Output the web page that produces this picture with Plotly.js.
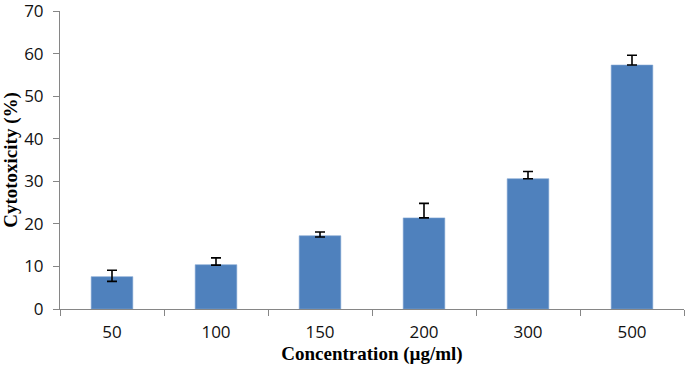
<!DOCTYPE html>
<html>
<head>
<meta charset="utf-8">
<script src="https://cdn.plot.ly/plotly-3.0.1.min.js"></script>
<style>
  html, body { margin: 0; padding: 0; background: #fff; }
  #chart { width: 685px; height: 367px; }
</style>
</head>
<body>
<div id="chart"></div>
<script>
// cytotoxicity per concentration
const concentrations = ["50", "100", "150", "200", "300", "500"];
const cytotoxicity = [7.6, 10.4, 17.2, 21.4, 30.6, 57.3];
const errPlus = [1.5, 1.6, 0.9, 3.4, 1.7, 2.3];
const errMinus = [1.1, 0.1, 0.3, 0.0, 0.0, 0.0];
const yTicks = [0, 10, 20, 30, 40, 50, 60, 70];

const axisGrey = "#868686";
const titleFont = { family: "Liberation Serif, Times New Roman, serif", size: 19, weight: "bold", color: "#000" };
const tickFont = { size: 17, family: "Open Sans, sans-serif", color: "#111" };

const barTrace = {
  x: concentrations,
  y: cytotoxicity,
  type: "bar",
  marker: { color: "#4F81BD", line: { color: "#7FA4D2", width: 0.6 } },
  error_y: {
    type: "data",
    symmetric: false,
    array: errPlus,
    arrayminus: errMinus,
    color: "#000",
    thickness: 1.6,
    width: 5,
  },
  hoverinfo: "x+y",
};

Plotly.newPlot("chart", [barTrace], {
  width: 685,
  height: 367,
  margin: { l: 60, r: 1, t: 11, b: 58 },
  paper_bgcolor: "#fff",
  plot_bgcolor: "#fff",
  bargap: 0.6,
  showlegend: false,
  font: { family: "Open Sans, Liberation Sans, sans-serif", color: "#000" },
  xaxis: {
    type: "category",
    showline: true,
    linecolor: axisGrey,
    linewidth: 1,
    ticks: "outside",
    tickson: "boundaries",
    ticklen: 6,
    tickcolor: axisGrey,
    ticklabelstandoff: 8,
    showgrid: false,
    tickfont: tickFont,
    title: { text: "Concentration (µg/ml)", font: titleFont, standoff: 4 },
  },
  yaxis: {
    range: [0, 70],
    tickvals: yTicks,
    showline: true,
    linecolor: axisGrey,
    linewidth: 1,
    ticks: "outside",
    ticklen: 6,
    tickcolor: axisGrey,
    ticklabelstandoff: 6,
    ticklabeloverflow: "allow",
    showgrid: false,
    zeroline: false,
    tickfont: tickFont,
    title: { text: "Cytotoxicity (%)", font: titleFont, standoff: 4 },
  },
}, { displayModeBar: false, staticPlot: true });
</script>
</body>
</html>
